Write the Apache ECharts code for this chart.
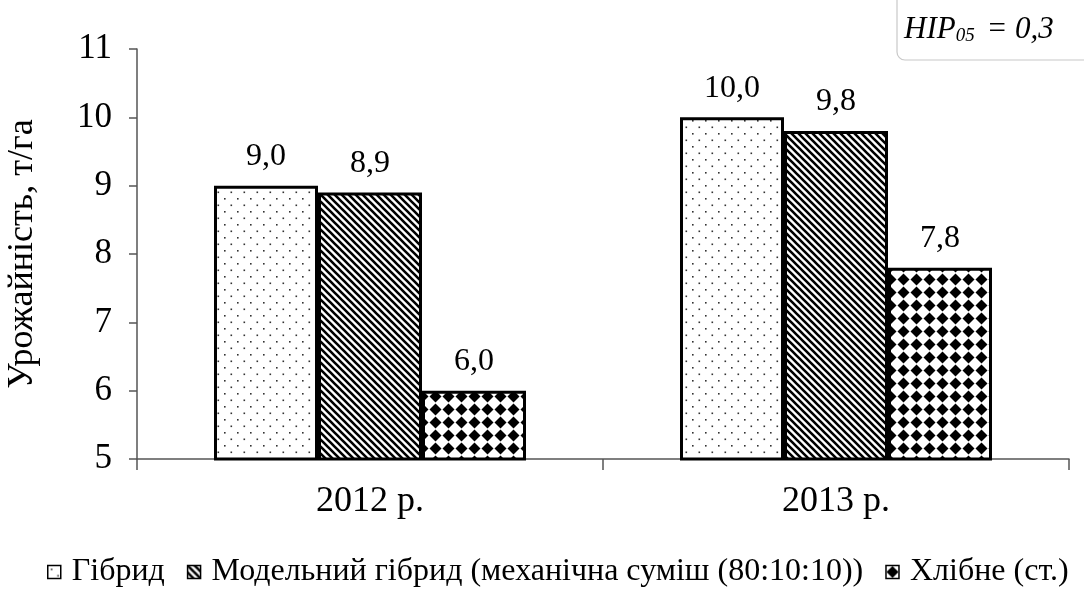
<!DOCTYPE html>
<html>
<head>
<meta charset="utf-8">
<title>Урожайність</title>
<script type="text/javascript" src="https://cdn.jsdelivr.net/npm/echarts@6/dist/echarts.min.js"></script>
<style>
	html, body { margin: 0; padding: 0; background: #fff; }
	#container { width: 1084px; height: 595px; }
</style>
</head>
<body>
<div id="container"></div>
<script type="text/javascript">
	var years = ['2012 р.', '2013 р.'];
	var seriesNames = ['Гібрид', 'Модельний гібрид (механічна суміш (80:10:10))', 'Хлібне (ст.)'];
	var hybrid = [9.0, 10.0];
	var modelHybrid = [8.9, 9.8];
	var standard = [6.0, 7.8];
	var yTicks = { min: 5, max: 11, step: 1 };

	var font = '"Liberation Serif", "Times New Roman", serif';

	// fill patterns, drawn on small canvases
	function makeTile(w, h, draw) {
		var c = document.createElement('canvas');
		c.width = w; c.height = h;
		var ctx = c.getContext('2d');
		ctx.fillStyle = '#fff';
		ctx.fillRect(0, 0, w, h);
		draw(ctx, w, h);
		return { image: c, repeat: 'repeat' };
	}

	var dots = makeTile(13, 13, function (ctx) {
		ctx.fillStyle = '#333';
		ctx.fillRect(3, 3, 1.6, 1.6);
		ctx.fillRect(9.5, 9.5, 1.6, 1.6);
	});

	var stripes = makeTile(7, 7, function (ctx, w, h) {
		ctx.strokeStyle = '#000';
		ctx.lineWidth = 2.6;
		ctx.beginPath();
		ctx.moveTo(-1, -1); ctx.lineTo(w + 1, h + 1);
		ctx.moveTo(-1, h - 1); ctx.lineTo(1, h + 1);
		ctx.moveTo(w - 1, -1); ctx.lineTo(w + 1, 1);
		ctx.stroke();
	});

	var diamonds = makeTile(13, 13, function (ctx, w, h) {
		ctx.fillStyle = '#000';
		ctx.beginPath();
		ctx.moveTo(w / 2, 0.5);
		ctx.lineTo(w - 0.5, h / 2);
		ctx.lineTo(w / 2, h - 0.5);
		ctx.lineTo(0.5, h / 2);
		ctx.closePath();
		ctx.fill();
	});

	function barSeries(name, data, fill) {
		return {
			name: name,
			type: 'bar',
			data: data,
			barWidth: 104,
			barGap: '0%',
			itemStyle: { color: fill, borderColor: '#000', borderWidth: 3 },
			label: {
				show: true,
				position: 'top',
				distance: 13,
				color: '#000',
				fontFamily: font,
				fontSize: 32,
				formatter: function (p) { return p.value.toFixed(1).replace('.', ','); }
			}
		};
	}

	var myChart = echarts.init(document.getElementById('container'));
	var option = {
		animation: false,
		backgroundColor: '#fff',
		textStyle: { fontFamily: font },
		grid: { left: 137, right: 15, top: 49, bottom: 136, outerBoundsMode: 'none', containLabel: false },
		legend: {
			bottom: 2,
			left: 42,
			itemWidth: 13,
			itemHeight: 13,
			itemGap: 22,
			icon: 'rect',
			itemStyle: { borderColor: '#000', borderWidth: 1.5 },
			textStyle: { fontFamily: font, fontSize: 32, color: '#000', padding: [0, 0, 0, 6] },
			data: seriesNames
		},
		xAxis: {
			type: 'category',
			data: years,
			axisLine: { lineStyle: { color: '#555', width: 1.5 } },
			axisTick: { show: true, length: 11, lineStyle: { color: '#555', width: 1.5 } },
			axisLabel: { margin: 25, color: '#000', fontFamily: font, fontSize: 36 }
		},
		yAxis: {
			type: 'value',
			min: yTicks.min,
			max: yTicks.max,
			interval: yTicks.step,
			name: 'Урожайність, т/га',
			nameLocation: 'middle',
			nameGap: 96,
			nameTextStyle: { fontFamily: font, fontSize: 36, color: '#000' },
			axisLine: { show: true, lineStyle: { color: '#555', width: 1.5 } },
			axisTick: { show: true, length: 8, lineStyle: { color: '#555', width: 1.5 } },
			splitLine: { show: false },
			axisLabel: { margin: 25, color: '#000', fontFamily: font, fontSize: 35 }
		},
		graphic: [{
			type: 'rect',
			shape: { x: 897, y: -20, width: 220, height: 80, r: 8 },
			style: { fill: '#fff', stroke: '#c8c8c8', lineWidth: 1.2 }
		}, {
			type: 'text',
			left: 904,
			top: 14,
			style: {
				text: '{a|HIP}{s|05}{a| = 0,3}',
				fill: '#000',
				rich: {
					a: { fontFamily: font, fontStyle: 'italic', fontSize: 31, verticalAlign: 'bottom', lineHeight: 36 },
					s: { fontFamily: font, fontStyle: 'italic', fontSize: 19, verticalAlign: 'bottom', lineHeight: 28, padding: [0, 4, 0, 0] }
				}
			}
		}],
		series: [
			barSeries(seriesNames[0], hybrid, dots),
			barSeries(seriesNames[1], modelHybrid, stripes),
			barSeries(seriesNames[2], standard, diamonds)
		]
	};
	myChart.setOption(option);
</script>
</body>
</html>
